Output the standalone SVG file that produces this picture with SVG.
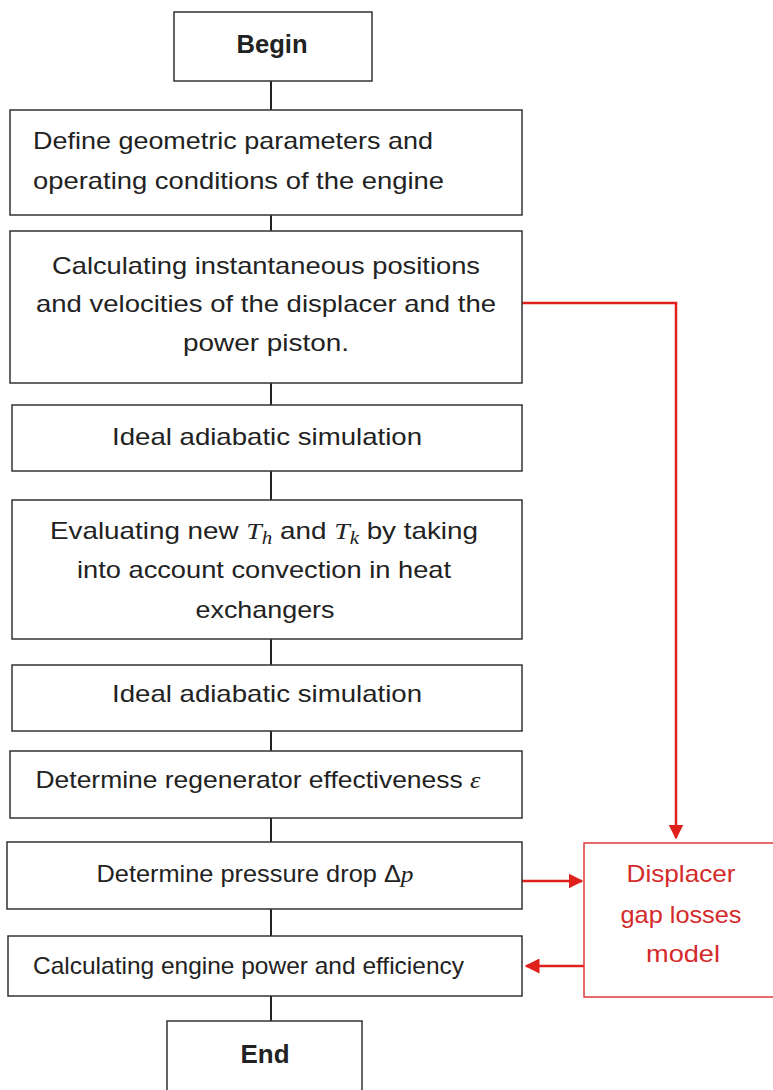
<svg xmlns="http://www.w3.org/2000/svg" width="773" height="1090" viewBox="0 0 773 1090">
<style>
.box{fill:#fff;stroke:#333;stroke-width:1.5}
.rbox{fill:#fff;stroke:#e03a3a;stroke-width:1.5}
.t{font-family:"Liberation Sans",Arial,sans-serif;font-size:24px;fill:#222;text-anchor:middle}
.b{font-weight:bold;font-size:25px}
.r{fill:#d42a2a}
.m{font-family:"Liberation Serif","DejaVu Serif",serif;font-style:italic}
.ln{stroke:#222;stroke-width:2;fill:none}
.rl{stroke:#e0201b;stroke-width:2.5;fill:none}
</style>
<defs>
<marker id="ah" viewBox="0 0 10 10" refX="9" refY="5" markerWidth="6" markerHeight="6" markerUnits="strokeWidth" orient="auto">
<path d="M0,0 L10,5 L0,10 z" fill="#e0201b"/>
</marker>
</defs>
<rect width="773" height="1090" fill="#fff"/>
<g id="connectors">
<line class="ln" x1="271" y1="81" x2="271" y2="110"/>
<line class="ln" x1="271" y1="215" x2="271" y2="231"/>
<line class="ln" x1="271" y1="383" x2="271" y2="405"/>
<line class="ln" x1="271" y1="471" x2="271" y2="500"/>
<line class="ln" x1="271" y1="639" x2="271" y2="665"/>
<line class="ln" x1="271" y1="731" x2="271" y2="751"/>
<line class="ln" x1="271" y1="818" x2="271" y2="842"/>
<line class="ln" x1="271" y1="909" x2="271" y2="936"/>
<line class="ln" x1="271" y1="996" x2="271" y2="1021"/>
<polyline class="rl" points="522,303 676,303 676,838" marker-end="url(#ah)"/>
<line class="rl" x1="522" y1="881" x2="582" y2="881" marker-end="url(#ah)"/>
<line class="rl" x1="584" y1="966" x2="526" y2="966" marker-end="url(#ah)"/>
</g>
<g id="begin">
<rect class="box" x="174" y="12" width="198" height="69"/>
<text class="t b" x="272" y="53" textLength="71" lengthAdjust="spacingAndGlyphs">Begin</text>
</g>
<g id="define">
<rect class="box" x="10" y="110" width="512" height="105"/>
<text class="t" x="33" y="149" style="text-anchor:start" textLength="400" lengthAdjust="spacingAndGlyphs">Define geometric parameters and</text>
<text class="t" x="33" y="189" style="text-anchor:start" textLength="411" lengthAdjust="spacingAndGlyphs">operating conditions of the engine</text>
</g>
<g id="calc-positions">
<rect class="box" x="10" y="231" width="512" height="152"/>
<text class="t" x="266" y="274" textLength="428" lengthAdjust="spacingAndGlyphs">Calculating instantaneous positions</text>
<text class="t" x="266" y="312" textLength="460" lengthAdjust="spacingAndGlyphs">and velocities of the displacer and the</text>
<text class="t" x="266" y="351" textLength="166" lengthAdjust="spacingAndGlyphs">power piston.</text>
</g>
<g id="ideal1">
<rect class="box" x="12" y="405" width="510" height="66"/>
<text class="t" x="267" y="445" textLength="310" lengthAdjust="spacingAndGlyphs">Ideal adiabatic simulation</text>
</g>
<g id="evaluate">
<rect class="box" x="12" y="500" width="510" height="139"/>
<text class="t" x="264" y="539" textLength="428" lengthAdjust="spacingAndGlyphs">Evaluating new <tspan class="m">T</tspan><tspan class="m" font-size="18" dy="5">h</tspan><tspan dy="-5"> and </tspan><tspan class="m">T</tspan><tspan class="m" font-size="18" dy="5">k</tspan><tspan dy="-5"> by taking</tspan></text>
<text class="t" x="264" y="578" textLength="374" lengthAdjust="spacingAndGlyphs">into account convection in heat</text>
<text class="t" x="265" y="618" textLength="139" lengthAdjust="spacingAndGlyphs">exchangers</text>
</g>
<g id="ideal2">
<rect class="box" x="12" y="665" width="510" height="66"/>
<text class="t" x="267" y="702" textLength="310" lengthAdjust="spacingAndGlyphs">Ideal adiabatic simulation</text>
</g>
<g id="regenerator">
<rect class="box" x="10" y="751" width="512" height="67"/>
<text class="t" x="258" y="788" textLength="445" lengthAdjust="spacingAndGlyphs">Determine regenerator effectiveness <tspan class="m">ε</tspan></text>
</g>
<g id="pressure">
<rect class="box" x="7" y="842" width="515" height="67"/>
<text class="t" x="255" y="882" textLength="317" lengthAdjust="spacingAndGlyphs">Determine pressure drop Δ<tspan class="m">p</tspan></text>
</g>
<g id="power">
<rect class="box" x="8" y="936" width="514" height="60"/>
<text class="t" x="33" y="974" style="text-anchor:start" textLength="431" lengthAdjust="spacingAndGlyphs">Calculating engine power and efficiency</text>
</g>
<g id="end">
<rect class="box" x="167" y="1021" width="195" height="75"/>
<text class="t b" x="265" y="1063" textLength="49" lengthAdjust="spacingAndGlyphs">End</text>
</g>
<g id="gap-model">
<rect class="rbox" x="584" y="843" width="195" height="154"/>
<text class="t r" x="681" y="882" textLength="109" lengthAdjust="spacingAndGlyphs">Displacer</text>
<text class="t r" x="681" y="923" textLength="121" lengthAdjust="spacingAndGlyphs">gap losses</text>
<text class="t r" x="683" y="962" textLength="74" lengthAdjust="spacingAndGlyphs">model</text>
</g>
</svg>
